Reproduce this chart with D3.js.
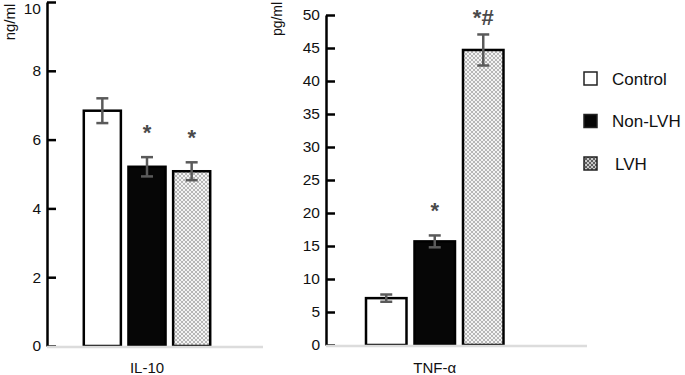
<!DOCTYPE html>
<html>
<head>
	<meta charset="utf-8">
	<title>IL-10 and TNF-α</title>
	<script src="https://d3js.org/d3.v7.min.js"></script>
	<style>
		html, body {
			margin: 0;
			background: #fff;
			overflow: hidden;
		}
		text {
			font-family: "Liberation Sans", Arial, sans-serif;
		}
	</style>
</head>
<body>
	<svg id="svg"></svg>
	<script>
		// values
		const groups = ["Control", "Non-LVH", "LVH"];

		const il10Mean = [6.84, 5.21, 5.08];
		const il10Err = [0.36, 0.28, 0.26];
		const il10Marks = ["", "*", "*"];
		const il10Ticks = [0, 2, 4, 6, 8, 10];

		const tnfMean = [7.1, 15.7, 44.7];
		const tnfErr = [0.55, 0.9, 2.35];
		const tnfMarks = ["", "*", "*#"];
		const tnfTicks = [0, 5, 10, 15, 20, 25, 30, 35, 40, 45, 50];

		const width = 685;
		const height = 375;

		const svg = d3.select("#svg")
		.attr("width", width)
		.attr("height", height);

		const defs = svg.append("defs");

		function addPattern(id, bg, line) {
			const p = defs.append("pattern")
			.attr("id", id)
			.attr("patternUnits", "userSpaceOnUse")
			.attr("width", 4)
			.attr("height", 4);
			p.append("rect").attr("width", 4).attr("height", 4).attr("fill", bg);
			p.append("path")
			.attr("d", "M0,0L4,4M4,0L0,4")
			.attr("stroke", line)
			.attr("stroke-width", 0.9);
		}
		addPattern("hatch", "#f4f4f4", "#b0b0b0");
		addPattern("hatchDark", "#c8c8c8", "#555");

		const fills = d3.scaleOrdinal()
		.domain(groups)
		.range(["#fff", "#060606", "url(#hatch)"]);

		function panel(opt) {
			const x = d3.scaleBand()
			.domain(groups)
			.range(opt.xRange)
			.paddingInner(opt.pad)
			.paddingOuter(opt.pad / 2);

			const y = d3.scaleLinear()
			.domain(opt.domain)
			.range(opt.yRange);

			const g = svg.append("g");
			const rows = groups.map((k, i) => ({
				key: k,
				mean: opt.mean[i],
				err: opt.err[i],
				mark: opt.marks[i]
			}));

			// axis, ticks point inward
			const axis = g.append("g")
			.attr("transform", `translate(${opt.axisX},0)`)
			.call(d3.axisLeft(y)
				.tickValues(opt.ticks)
				.tickSizeInner(-9)
				.tickSizeOuter(0)
				.tickPadding(6));
			axis.select(".domain").attr("stroke", "#000").attr("stroke-width", 2.5);
			axis.selectAll(".tick line").attr("stroke", "#000").attr("stroke-width", 2.5);
			axis.selectAll(".tick text")
			.attr("font-size", 15.5)
			.attr("fill", "#111")
			.attr("dy", d => y(d) < 8 ? "0.74em" : "0.32em")
			.style("font-family", "'Liberation Sans', Arial, sans-serif");

			// bars
			g.selectAll("rect.bar")
			.data(rows)
			.enter()
			.append("rect")
			.attr("class", "bar")
			.attr("x", d => x(d.key))
			.attr("width", x.bandwidth())
			.attr("y", d => y(d.mean))
			.attr("height", d => y(0) - y(d.mean))
			.attr("fill", d => fills(d.key))
			.attr("stroke", "#000")
			.attr("stroke-width", 2.5);

			// error bars
			const eb = g.selectAll("g.err")
			.data(rows)
			.enter()
			.append("g")
			.attr("class", "err")
			.attr("stroke", "#5a5a5a")
			.attr("stroke-width", 2.5);
			const cx = d => x(d.key) + x.bandwidth() / 2;
			eb.append("line")
			.attr("x1", cx).attr("x2", cx)
			.attr("y1", d => y(d.mean + d.err))
			.attr("y2", d => y(d.mean - d.err));
			eb.append("line")
			.attr("x1", d => cx(d) - 6).attr("x2", d => cx(d) + 6)
			.attr("y1", d => y(d.mean + d.err))
			.attr("y2", d => y(d.mean + d.err));
			eb.append("line")
			.attr("x1", d => cx(d) - 6).attr("x2", d => cx(d) + 6)
			.attr("y1", d => y(d.mean - d.err))
			.attr("y2", d => y(d.mean - d.err));

			// significance marks
			g.selectAll("text.mark")
			.data(rows.filter(d => d.mark))
			.enter()
			.append("text")
			.attr("class", "mark")
			.attr("x", cx)
			.attr("y", d => Math.max(y(d.mean + d.err) - 17, 25))
			.attr("text-anchor", "middle")
			.attr("font-size", 22)
			.attr("font-weight", "bold")
			.attr("fill", "#4a4a4a")
			.text(d => d.mark);

			// grey baseline
			g.append("line")
			.attr("x1", opt.axisX)
			.attr("x2", opt.baseEnd)
			.attr("y1", y(0) + 1)
			.attr("y2", y(0) + 1)
			.attr("stroke", "#dcdcdc")
			.attr("stroke-width", 2.5);

			// y title
			g.append("text")
			.attr("transform", `translate(${opt.titleX},${opt.titleY}) rotate(-90)`)
			.attr("text-anchor", "middle")
			.attr("font-size", opt.titleSize)
			.attr("fill", "#111")
			.text(opt.unit);

			// x label
			g.append("text")
			.attr("x", (opt.xRange[0] + opt.xRange[1]) / 2)
			.attr("y", 373)
			.attr("text-anchor", "middle")
			.attr("font-size", 15)
			.attr("fill", "#111")
			.text(opt.label);
		}

		panel({
			mean: il10Mean, err: il10Err, marks: il10Marks, ticks: il10Ticks,
			domain: [0, 10], yRange: [346, 2], xRange: [80, 214], pad: 0.17,
			axisX: 47, baseEnd: 263, unit: "ng/ml", titleX: 15, titleY: 22,
			titleSize: 15, label: "IL-10"
		});

		panel({
			mean: tnfMean, err: tnfErr, marks: tnfMarks, ticks: tnfTicks,
			domain: [0, 50], yRange: [345, 15], xRange: [362, 507.5], pad: 0.165,
			axisX: 326, baseEnd: 587, unit: "pg/ml", titleX: 282, titleY: 19,
			titleSize: 14, label: "TNF-α"
		});

		// legend
		const legendFills = ["#fff", "#060606", "url(#hatchDark)"];
		const legend = svg.append("g")
		.selectAll("g")
		.data(groups)
		.enter()
		.append("g")
		.attr("transform", (d, i) => `translate(584,${72 + i * 42.5})`);

		legend.append("rect")
		.attr("width", 13)
		.attr("height", 13)
		.attr("fill", (d, i) => legendFills[i])
		.attr("stroke", "#222")
		.attr("stroke-width", 1.5);

		legend.append("text")
		.attr("x", (d, i) => i === 2 ? 31 : 28)
		.attr("y", 12.5)
		.attr("font-size", 17)
		.attr("fill", "#111")
		.text(d => d);
	</script>
</body>
</html>
